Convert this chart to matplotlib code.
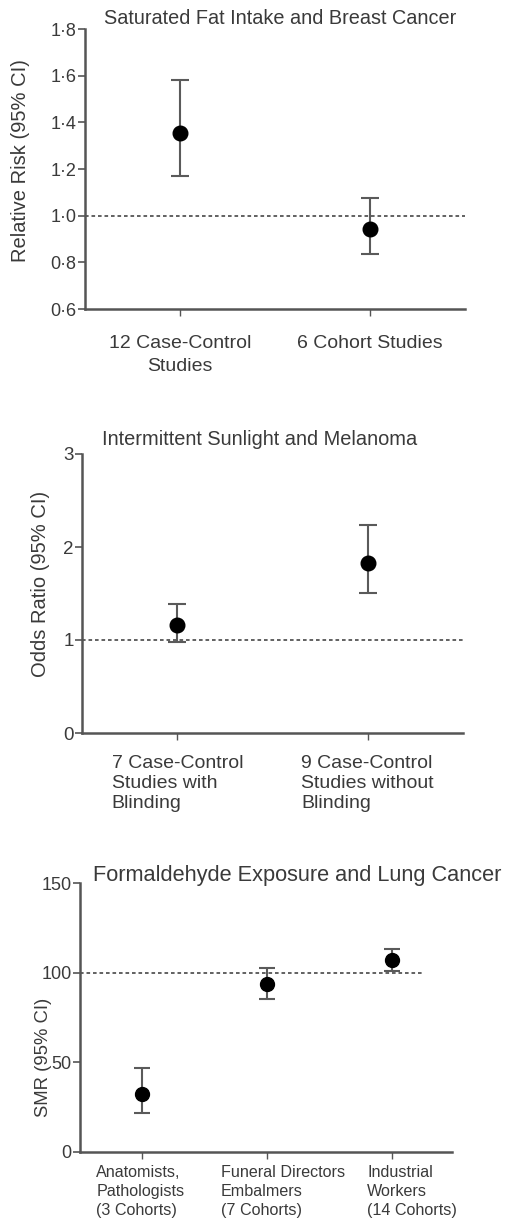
import matplotlib
matplotlib.use("Agg")
import matplotlib.pyplot as plt
import numpy as np

plt.rcParams['font.family'] = ['Liberation Sans', 'DejaVu Sans']

# ---- data ----
p1_title = "Saturated Fat Intake and Breast Cancer"
p1_ylabel = "Relative Risk (95% CI)"
p1_cats = ["12 Case-Control\nStudies", "6 Cohort Studies"]
p1_est = [1.355, 0.945]
p1_lo = [1.17, 0.835]
p1_hi = [1.58, 1.075]
p1_yticks = [0.6, 0.8, 1.0, 1.2, 1.4, 1.6, 1.8]
p1_yticklabels = ["0·6", "0·8", "1·0", "1·2", "1·4", "1·6", "1·8"]
p1_ref = 1.0

p2_title = "Intermittent Sunlight and Melanoma"
p2_ylabel = "Odds Ratio (95% CI)"
p2_cats = ["7 Case-Control\nStudies with\nBlinding", "9 Case-Control\nStudies without\nBlinding"]
p2_est = [1.16, 1.83]
p2_lo = [0.98, 1.51]
p2_hi = [1.39, 2.24]
p2_yticks = [0, 1, 2, 3]
p2_yticklabels = ["0", "1", "2", "3"]
p2_ref = 1.0

p3_title = "Formaldehyde Exposure and Lung Cancer"
p3_ylabel = "SMR (95% CI)"
p3_cats = ["Anatomists,\nPathologists\n(3 Cohorts)", "Funeral Directors\nEmbalmers\n(7 Cohorts)", "Industrial\nWorkers\n(14 Cohorts)"]
p3_est = [32.5, 93.5, 107.0]
p3_lo = [21.5, 85.5, 101.0]
p3_hi = [47.0, 102.5, 113.0]
p3_yticks = [0, 50, 100, 150]
p3_yticklabels = ["0", "50", "100", "150"]
p3_ref = 100.0

# ---- style ----
W, H = 506, 1222
TXT = "#3a3a3a"
AX = "#555555"
ERR = "#5a5a5a"

fig = plt.figure(figsize=(W / 100, H / 100), dpi=100)


def axes_px(l, r, t, b):
    return fig.add_axes([l / W, 1 - b / H, (r - l) / W, (b - t) / H])


def style(ax, ylim, xlim, yticks, yticklabels, ytfs=13, xpad=8):
    ax.set_ylim(*ylim)
    ax.set_xlim(*xlim)
    for s in ["top", "right"]:
        ax.spines[s].set_visible(False)
    for s in ["left", "bottom"]:
        ax.spines[s].set_color(AX)
        ax.spines[s].set_linewidth(1.8)
    ax.set_yticks(yticks)
    ax.set_yticklabels(yticklabels, fontsize=ytfs, color=TXT)
    ax.tick_params(axis='y', direction='out', length=5, width=1.2, color=AX, pad=1)
    ax.tick_params(axis='x', direction='out', length=5, width=1.0, color=AX, pad=xpad)


def draw_points(ax, x, est, lo, hi, ms=10.5, cap=6.5):
    est = np.array(est); lo = np.array(lo); hi = np.array(hi)
    ax.errorbar(x, est, yerr=[est - lo, hi - est], fmt='o', color='black',
                ecolor=ERR, elinewidth=1.5, capsize=cap, capthick=1.5,
                markersize=ms, zorder=3)


# Panel 1
ax1 = axes_px(85, 465, 29, 309)
x1 = np.arange(len(p1_cats))
style(ax1, (0.6, 1.8), (-0.5, 1.5), p1_yticks, p1_yticklabels, ytfs=13, xpad=14)
ax1.axhline(p1_ref, color=AX, lw=1.3, ls=(0, (2, 1.6)), zorder=1)
draw_points(ax1, x1, p1_est, p1_lo, p1_hi)
ax1.set_xticks(x1)
ax1.set_xticklabels(p1_cats, fontsize=14, color=TXT, linespacing=1.4)
ax1.set_ylabel(p1_ylabel, fontsize=14.5, color=TXT)
ax1.yaxis.set_label_coords(-0.145, 0.53)
fig.text(280 / W, 1 - 18 / H, p1_title, ha='center', va='center', fontsize=14.3, color=TXT)

# Panel 2
ax2 = axes_px(82, 463, 454, 733)
x2 = np.arange(len(p2_cats))
style(ax2, (0, 3), (-0.5, 1.5), p2_yticks, p2_yticklabels, ytfs=13.5, xpad=11)
ax2.axhline(p2_ref, color=AX, lw=1.3, ls=(0, (2, 1.6)), zorder=1)
draw_points(ax2, x2, p2_est, p2_lo, p2_hi)
ax2.set_xticks(x2)
ax2.set_xticklabels(p2_cats, fontsize=14, color=TXT, linespacing=1.22,
                    multialignment='left')
ax2.set_ylabel(p2_ylabel, fontsize=14.5, color=TXT)
ax2.yaxis.set_label_coords(-0.084, 0.534)
fig.text(260 / W, 1 - 439 / H, p2_title, ha='center', va='center', fontsize=14.4, color=TXT)

# Panel 3
ax3 = axes_px(80, 452, 883, 1152)
x3 = np.arange(len(p3_cats))
style(ax3, (0, 150), (-0.5, 2.48), p3_yticks, p3_yticklabels, ytfs=13)
ax3.plot([-0.5, 2.24], [p3_ref, p3_ref], color=AX, lw=1.3, ls=(0, (2, 1.6)), zorder=1)
draw_points(ax3, x3, p3_est, p3_lo, p3_hi, ms=10, cap=5.5)
ax3.set_xticks(x3)
ax3.set_xticklabels([""] * len(p3_cats))
label_offsets = [-0.37, -0.37, -0.2]
for xi, lab, off in zip(x3, p3_cats, label_offsets):
    ax3.text(xi + off, -7.5, lab, ha='left', va='top', fontsize=11.6, color=TXT,
             linespacing=1.32)
ax3.set_ylabel(p3_ylabel, fontsize=13.3, color=TXT)
ax3.yaxis.set_label_coords(-0.075, 0.35)
fig.text(93 / W, 1 - 876 / H, p3_title, ha='left', va='center', fontsize=15.7, color=TXT)

fig.savefig("out.png", dpi=100, facecolor='white')
